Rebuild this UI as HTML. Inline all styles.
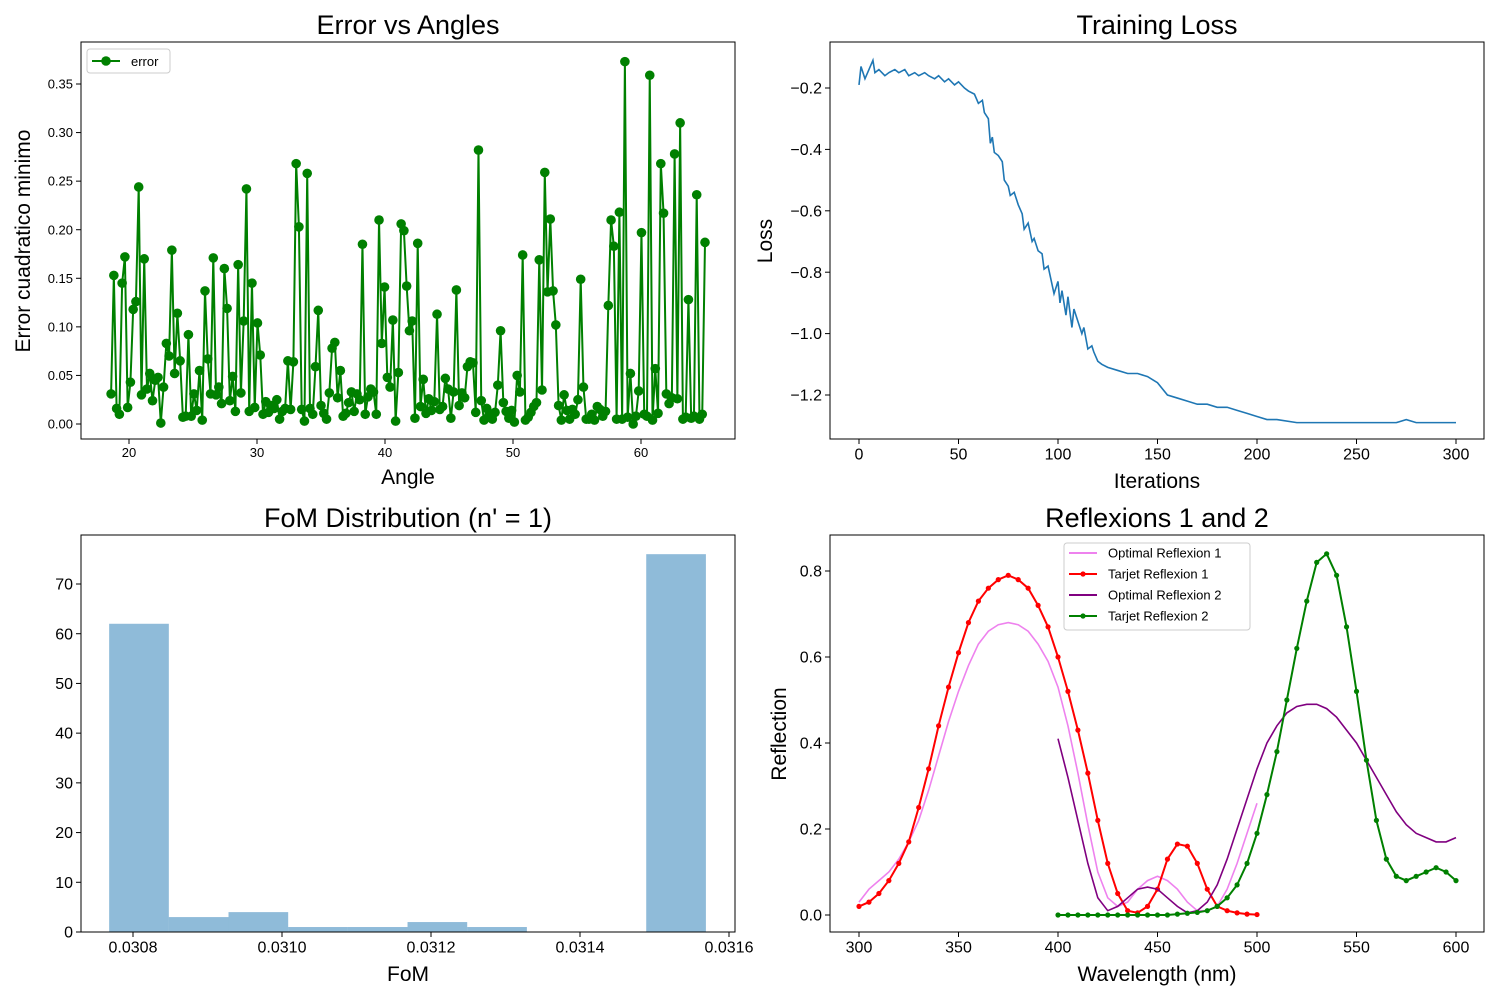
<!DOCTYPE html>
<html><head><meta charset="utf-8"><style>
body{margin:0;background:#fff;}
svg{display:block;font-family:"Liberation Sans","DejaVu Sans",sans-serif;}
</style></head><body>
<svg id="fig" width="1500" height="1000" viewBox="0 0 1500 1000"></svg>
<script>
// ---------- Data ----------
const angleStart = 18.6, angleEnd = 65.0;
const errorValues = [.031,.153,.016,.010,.145,.172,.017,.043,.118,.126,.244,.030,.170,.036,.052,.024,.045,.048,.001,.038,.083,.070,.179,.052,.114,.065,.007,.008,.092,.008,.031,.014,.055,.004,.137,.067,.031,.171,.030,.038,.021,.160,.119,.024,.049,.013,.164,.032,.106,.242,.013,.145,.017,.104,.071,.010,.023,.012,.019,.016,.025,.005,.013,.016,.065,.015,.064,.268,.203,.015,.003,.258,.016,.010,.059,.117,.019,.011,.005,.032,.078,.084,.027,.055,.008,.011,.022,.033,.013,.031,.025,.185,.010,.028,.036,.033,.010,.210,.083,.141,.048,.038,.107,.003,.053,.206,.199,.142,.096,.106,.006,.186,.018,.046,.011,.026,.014,.023,.113,.015,.018,.047,.036,.006,.033,.138,.019,.032,.027,.059,.064,.063,.012,.282,.024,.004,.016,.010,.005,.012,.040,.096,.022,.013,.006,.014,.002,.050,.033,.174,.004,.007,.012,.018,.022,.169,.035,.259,.136,.211,.137,.102,.019,.004,.030,.014,.005,.015,.010,.025,.149,.038,.005,.005,.010,.004,.018,.015,.008,.013,.122,.210,.183,.005,.218,.005,.373,.007,.052,.000,.008,.034,.197,.010,.008,.359,.004,.057,.011,.268,.217,.031,.021,.027,.278,.026,.310,.005,.007,.128,.006,.008,.236,.005,.010,.187];
const errYTicks = [0,0.05,0.10,0.15,0.20,0.25,0.30,0.35];
const errXTicks = [20,30,40,50,60];

const lossIter = [0,1,3,5,7,8,10,13,15,18,20,23,25,28,30,33,35,38,40,43,45,48,50,53,55,58,60,62,63,65,66,67,68,70,72,73,75,76,78,80,82,83,85,87,88,90,92,93,95,97,98,100,101,102,104,105,107,108,110,112,113,115,117,118,120,122,125,130,135,140,145,150,155,160,165,170,175,180,185,190,195,200,205,210,220,230,240,250,260,270,275,280,290,300];
const lossVals = [-0.19,-0.13,-0.17,-0.14,-0.11,-0.15,-0.14,-0.16,-0.15,-0.14,-0.15,-0.14,-0.16,-0.15,-0.16,-0.15,-0.16,-0.17,-0.16,-0.18,-0.17,-0.19,-0.18,-0.20,-0.21,-0.22,-0.25,-0.24,-0.28,-0.30,-0.38,-0.36,-0.41,-0.42,-0.44,-0.50,-0.52,-0.55,-0.54,-0.58,-0.61,-0.66,-0.64,-0.70,-0.69,-0.73,-0.74,-0.79,-0.78,-0.84,-0.87,-0.83,-0.90,-0.86,-0.94,-0.88,-0.98,-0.92,-0.96,-1.00,-0.98,-1.05,-1.04,-1.06,-1.09,-1.10,-1.11,-1.12,-1.13,-1.13,-1.14,-1.16,-1.20,-1.21,-1.22,-1.23,-1.23,-1.24,-1.24,-1.25,-1.26,-1.27,-1.28,-1.28,-1.29,-1.29,-1.29,-1.29,-1.29,-1.29,-1.28,-1.29,-1.29,-1.29];
const lossYTicks = [-1.2,-1.0,-0.8,-0.6,-0.4,-0.2];
const lossXTicks = [0,50,100,150,200,250,300];

const fomEdges = [0.030768,0.0308481,0.0309282,0.0310083,0.0310884,0.0311685,0.0312486,0.0313287,0.0314088,0.0314889,0.031569];
const fomCounts = [62,3,4,1,1,2,1,0,0,76];
const fomXTicks = [0.0308,0.0310,0.0312,0.0314,0.0316];
const fomYTicks = [0,10,20,30,40,50,60,70];

const wl1 = [300,305,310,315,320,325,330,335,340,345,350,355,360,365,370,375,380,385,390,395,400,405,410,415,420,425,430,435,440,445,450,455,460,465,470,475,480,485,490,495,500];
const target1 = [.02,.03,.05,.08,.12,.17,.25,.34,.44,.53,.61,.68,.73,.76,.78,.79,.78,.76,.72,.67,.60,.52,.43,.33,.22,.12,.05,.01,.005,.02,.06,.13,.165,.16,.12,.06,.02,.01,.005,.002,.001];
const optimal1 = [.03,.06,.08,.10,.13,.17,.22,.29,.37,.45,.52,.58,.63,.66,.675,.68,.675,.66,.63,.59,.53,.44,.33,.21,.10,.04,.02,.03,.06,.08,.09,.08,.06,.03,.01,.01,.02,.06,.12,.19,.26];
const wl2 = [400,405,410,415,420,425,430,435,440,445,450,455,460,465,470,475,480,485,490,495,500,505,510,515,520,525,530,535,540,545,550,555,560,565,570,575,580,585,590,595,600];
const optimal2 = [.41,.32,.22,.12,.04,.01,.02,.04,.06,.065,.06,.04,.02,.005,.01,.03,.07,.13,.20,.27,.34,.40,.44,.47,.485,.49,.49,.48,.46,.43,.40,.36,.32,.28,.24,.21,.19,.18,.17,.17,.18];
const target2 = [0,0,0,0,0,0,0,0,0,0,0,0,.002,.004,.006,.01,.02,.04,.07,.12,.19,.28,.38,.50,.62,.73,.82,.84,.79,.67,.52,.36,.22,.13,.09,.08,.09,.10,.11,.10,.08];
const reflXTicks = [300,350,400,450,500,550,600];
const reflYTicks = [0.0,0.2,0.4,0.6,0.8];

// ---------- Helpers ----------
const NS = "http://www.w3.org/2000/svg";
const fig = document.getElementById('fig');
function mk(tag, attrs, parent, text){
  const e = document.createElementNS(NS, tag);
  for (const k in attrs) e.setAttribute(k, attrs[k]);
  if (text !== undefined) e.textContent = text;
  (parent||fig).appendChild(e);
  return e;
}
function lin(d0,d1,r0,r1){ return v => r0 + (v-d0)*(r1-r0)/(d1-d0); }

function axesFrame(name){
  const g = mk('g',{});
  
  
  return g;
}
function frame(g,x0,y0,x1,y1){
  const r = mk('rect',{x:x0,y:y0,width:x1-x0,height:y1-y0,fill:'none',stroke:'#000','stroke-width':1},g);
  
  
}
function xTicks(g, ticks, sx, yb, fs, fmt){
  ticks.forEach(t=>{
    const x = sx(t);
    mk('line',{x1:x,y1:yb,x2:x,y2:yb+5,stroke:'#000'},g);
    const tx = mk('text',{x:x,y:yb+7+fs*0.85,'font-size':fs,'text-anchor':'middle',fill:'#000'},g,fmt(t));
    
    
  });
}
function yTicks(g, ticks, sy, xl, fs, fmt){
  ticks.forEach(t=>{
    const y = sy(t);
    mk('line',{x1:xl-5,y1:y,x2:xl,y2:y,stroke:'#000'},g);
    const tx = mk('text',{x:xl-8,y:y+fs*0.35,'font-size':fs,'text-anchor':'end',fill:'#000'},g,fmt(t));
    
    
  });
}
function title(g, x, y, s){
  const t = mk('text',{x:x,y:y,'font-size':27,'text-anchor':'middle',fill:'#000'},g,s);
  
  
}
function xlabel(g,x,y,s){
  const t = mk('text',{x:x,y:y,'font-size':21,'text-anchor':'middle',fill:'#000'},g,s);
  
  
}
function ylabel(g,x,y,s){
  const t = mk('text',{x:x,y:y,'font-size':21,'text-anchor':'middle',fill:'#000',transform:`rotate(-90 ${x} ${y})`},g,s);
  
  
}
function pathD(xs,ys,sx,sy){ return xs.map((v,i)=>(i?'L':'M')+sx(v).toFixed(2)+','+sy(ys[i]).toFixed(2)).join(''); }

// ---------- Plot 1: Error vs Angles ----------
(function(){
  const g = axesFrame('error-vs-angles-chart');
  const sx = lin(20,60,129,641), sy = lin(0,0.35,424,84);
  const n = errorValues.length;
  const angles = errorValues.map((_,i)=> angleStart + i*(angleEnd-angleStart)/(n-1));
  const p = mk('path',{d:pathD(angles,errorValues,sx,sy),fill:'none',stroke:'#008000','stroke-width':2},g);
  
  
  angles.forEach((a,i)=>{
    const c = mk('circle',{cx:sx(a),cy:sy(errorValues[i]),r:4.8,fill:'#008000'},g);
    
    
  });
  frame(g,81,42,735,439);
  xTicks(g,errXTicks,sx,439,13,t=>String(t));
  yTicks(g,errYTicks,sy,81,13,t=>t.toFixed(2));
  title(g,408,34,'Error vs Angles');
  xlabel(g,408,484,'Angle');
  ylabel(g,30,241,'Error cuadratico minimo');
  const lg = mk('g',{},g);
  
  
  mk('rect',{x:87,y:49,width:83,height:24,rx:3,fill:'#fff',stroke:'#ccc'},lg);
  mk('line',{x1:92,y1:61,x2:120,y2:61,stroke:'#008000','stroke-width':2},lg);
  mk('circle',{cx:106,cy:61,r:4.8,fill:'#008000'},lg);
  const lt = mk('text',{x:131,y:66,'font-size':13,fill:'#000'},lg,'error');
  
  
})();

// ---------- Plot 2: Training Loss ----------
(function(){
  const g = axesFrame('training-loss-chart');
  const sx = lin(0,300,859,1456), sy = lin(-0.2,-1.2,88,395);
  const p = mk('path',{d:pathD(lossIter,lossVals,sx,sy),fill:'none',stroke:'#1f77b4','stroke-width':1.6},g);
  
  
  frame(g,830,42,1484,439);
  xTicks(g,lossXTicks,sx,439,16,t=>String(t));
  yTicks(g,lossYTicks,sy,830,16,t=>'\u2212'+Math.abs(t).toFixed(1));
  title(g,1157,34,'Training Loss');
  xlabel(g,1157,488,'Iterations');
  ylabel(g,772,241,'Loss');
})();

// ---------- Plot 3: FoM Distribution ----------
(function(){
  const g = axesFrame('fom-distribution-chart');
  const sx = lin(0.0308,0.0316,133,729), sy = lin(0,70,932,584);
  fomCounts.forEach((c,i)=>{
    if (c<=0) return;
    const x0 = sx(fomEdges[i]), x1 = sx(fomEdges[i+1]);
    const r = mk('rect',{x:x0,y:sy(c),width:x1-x0,height:sy(0)-sy(c),fill:'#1f77b4','fill-opacity':0.5},g);
    
    
  });
  frame(g,81,535,735,932);
  xTicks(g,fomXTicks,sx,932,16,t=>t.toFixed(4));
  yTicks(g,fomYTicks,sy,81,16,t=>String(t));
  title(g,408,527,"FoM Distribution (n' = 1)");
  xlabel(g,408,981,'FoM');
})();

// ---------- Plot 4: Reflexions ----------
(function(){
  const g = axesFrame('reflexions-chart');
  const sx = lin(300,600,859,1456), sy = lin(0,0.8,915,571);
  function line(xs,ys,color,w,name){
    const p = mk('path',{d:pathD(xs,ys,sx,sy),fill:'none',stroke:color,'stroke-width':w},g);
    
    
  }
  function dots(xs,ys,color,name){
    xs.forEach((v,i)=>{
      const c = mk('circle',{cx:sx(v),cy:sy(ys[i]),r:2.6,fill:color},g);
      
      
    });
  }
  line(wl1,optimal1,'#ee82ee',1.6,'optimal-reflexion-1-line');
  line(wl1,target1,'#ff0000',2,'target-reflexion-1-line');
  dots(wl1,target1,'#ff0000','target-reflexion-1-point');
  line(wl2,optimal2,'#800080',1.6,'optimal-reflexion-2-line');
  line(wl2,target2,'#008000',2,'target-reflexion-2-line');
  dots(wl2,target2,'#008000','target-reflexion-2-point');
  frame(g,830,535,1484,932);
  xTicks(g,reflXTicks,sx,932,16,t=>String(t));
  yTicks(g,reflYTicks,sy,830,16,t=>t.toFixed(1));
  title(g,1157,527,'Reflexions 1 and 2');
  xlabel(g,1157,981,'Wavelength (nm)');
  ylabel(g,786,734,'Reflection');
  const lg = mk('g',{},g);
  
  
  mk('rect',{x:1064,y:543,width:186,height:87,rx:3,fill:'#fff','fill-opacity':0.85,stroke:'#ccc'},lg);
  const entries = [['Optimal Reflexion 1','#ee82ee',false],['Tarjet Reflexion 1','#ff0000',true],['Optimal Reflexion 2','#800080',false],['Tarjet Reflexion 2','#008000',true]];
  entries.forEach((e,i)=>{
    const y = 553 + i*21;
    mk('line',{x1:1069,y1:y,x2:1097,y2:y,stroke:e[1],'stroke-width':2},lg);
    if (e[2]) mk('circle',{cx:1083,cy:y,r:2.6,fill:e[1]},lg);
    const t = mk('text',{x:1108,y:y+4.5,'font-size':13,fill:'#000'},lg,e[0]);
    
    
  });
})();
</script>
</body></html>
